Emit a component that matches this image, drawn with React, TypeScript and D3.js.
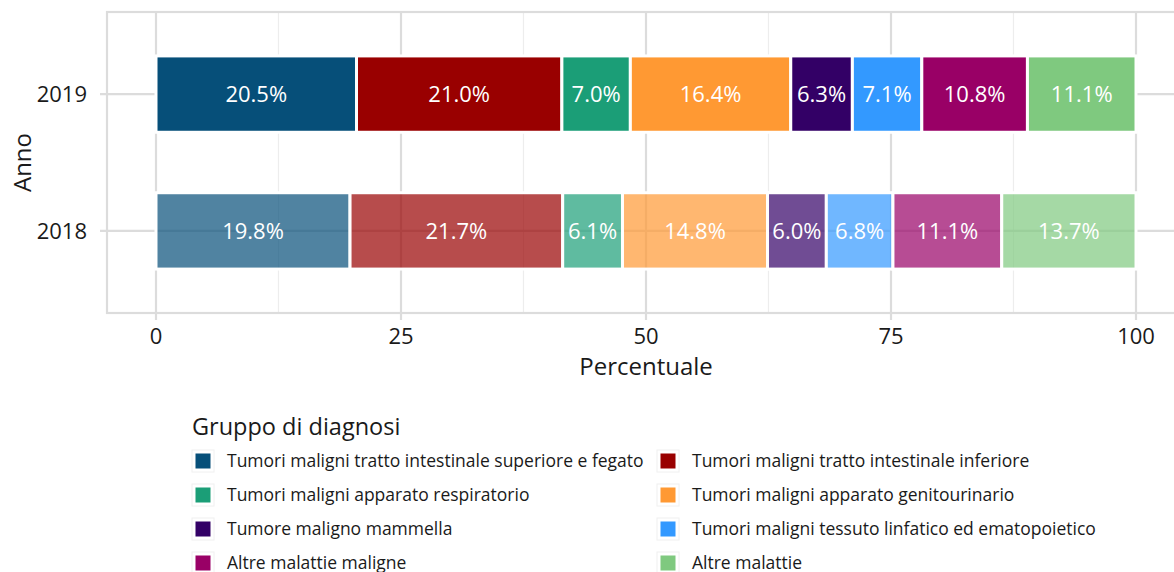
import React from "react";
import * as d3 from "d3";

const years = ["2019", "2018"];
const groups = [
  "Tumori maligni tratto intestinale superiore e fegato",
  "Tumori maligni tratto intestinale inferiore",
  "Tumori maligni apparato respiratorio",
  "Tumori maligni apparato genitourinario",
  "Tumore maligno mammella",
  "Tumori maligni tessuto linfatico ed ematopoietico",
  "Altre malattie maligne",
  "Altre malattie",
];
const colors = ["#064f79", "#990000", "#1b9e77", "#ff9933", "#330066", "#3399ff", "#990066", "#7fc97f"];
const values2019 = [20.5, 21.0, 7.0, 16.4, 6.3, 7.1, 10.8, 11.1];
const values2018 = [19.8, 21.7, 6.1, 14.8, 6.0, 6.8, 11.1, 13.7];
const alphas = [1, 0.7];
const xTicks = [0, 25, 50, 75, 100];
const xMinor = [12.5, 37.5, 62.5, 87.5];

const FONT = "'Open Sans', 'Noto Sans', sans-serif";

export default function App() {
  const W = 1174, H = 572;
  const left = 107, right = 1185, top = 12, bottom = 313;
  const x = d3.scaleLinear().domain([-5, 105]).range([left, right]);
  const yPos: Record<string, number> = { "2019": 2, "2018": 1 };
  const y = d3.scaleLinear().domain([0.4, 2.6]).range([bottom, top]);
  const halfH = 0.279;

  const rows = years.map((yr, i) => {
    const vals = i === 0 ? values2019 : values2018;
    const total = d3.sum(vals);
    const cum = d3.cumsum(vals);
    return vals.map((v, j) => ({
      year: yr,
      v,
      x0: ((cum[j] - v) / total) * 100,
      x1: (cum[j] / total) * 100,
      color: colors[j],
      alpha: alphas[i],
    }));
  });

  const grid = "#dcdcdc";
  const minor = "#ededed";

  const legendCols = [192, 657];
  const legendRow0 = 461;
  const legendDy = 34;

  return (
    <svg width={W} height={H} style={{ position: "absolute", left: 0, top: 0, fontFamily: FONT }}>
      <rect x={0} y={0} width={W} height={H} fill="#fff" />
      {xMinor.map((t) => (
        <line key={"m" + t} x1={x(t)} x2={x(t)} y1={top} y2={bottom} stroke={minor} strokeWidth={1.2} />
      ))}
      {xTicks.map((t) => (
        <line key={"g" + t} x1={x(t)} x2={x(t)} y1={top} y2={bottom + 7} stroke={grid} strokeWidth={2.2} />
      ))}
      {years.map((yr) => (
        <line key={"h" + yr} x1={left - 7} x2={right} y1={y(yPos[yr])} y2={y(yPos[yr])} stroke={grid} strokeWidth={2.2} />
      ))}
      <rect x={left} y={top} width={right - left} height={bottom - top} fill="none" stroke={grid} strokeWidth={2.2} />
      {rows.map((segs, i) =>
        segs.map((s, j) => (
          <rect
            key={"b" + i + "-" + j}
            x={x(s.x0)}
            y={y(yPos[s.year] + halfH)}
            width={x(s.x1) - x(s.x0)}
            height={y(yPos[s.year] - halfH) - y(yPos[s.year] + halfH)}
            fill={s.color}
            fillOpacity={s.alpha}
            stroke="#fff"
            strokeWidth={3}
          />
        ))
      )}
      {rows.map((segs, i) =>
        segs.map((s, j) => (
          <text
            key={"t" + i + "-" + j}
            x={(x(s.x0) + x(s.x1)) / 2}
            y={y(yPos[s.year])}
            dy="0.35em"
            textAnchor="middle"
            fill="#fff"
            fontSize={22}
          >
            {s.v.toFixed(1) + "%"}
          </text>
        ))
      )}
      {years.map((yr) => (
        <text key={"yl" + yr} x={87} y={y(yPos[yr])} dy="0.35em" textAnchor="end" fontSize={22} fill="#1a1a1a">
          {yr}
        </text>
      ))}
      {xTicks.map((t) => (
        <text key={"xl" + t} x={x(t)} y={344} textAnchor="middle" fontSize={22} fill="#1a1a1a">
          {t}
        </text>
      ))}
      <text x={(left + right) / 2} y={375} textAnchor="middle" fontSize={24} fill="#1a1a1a">
        Percentuale
      </text>
      <text transform={`translate(31,${(top + bottom) / 2}) rotate(-90)`} textAnchor="middle" fontSize={24} fill="#1a1a1a">
        Anno
      </text>
      <text x={192} y={435} fontSize={23.5} fill="#1a1a1a">
        Gruppo di diagnosi
      </text>
      {groups.map((g, k) => {
        const col = k % 2;
        const row = Math.floor(k / 2);
        const cx = legendCols[col];
        const cy = legendRow0 + row * legendDy;
        return (
          <g key={"lg" + k}>
            <rect x={cx} y={cy - 11} width={22} height={22} fill="#fff" stroke="#f0f0f0" strokeWidth={1} />
            <rect x={cx + 3.5} y={cy - 7.5} width={15} height={15} fill={colors[k]} />
            <text x={cx + 35} y={cy} dy="0.35em" fontSize={17.5} fill="#1a1a1a">
              {g}
            </text>
          </g>
        );
      })}
    </svg>
  );
}
